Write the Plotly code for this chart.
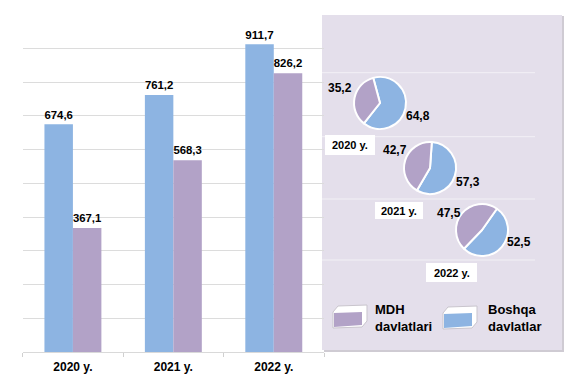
import plotly.graph_objects as go

# ---- data ----
years = ["2020 y.", "2021 y.", "2022 y."]
boshqa_vals = [674.6, 761.2, 911.7]   # blue bars
mdh_vals = [367.1, 568.3, 826.2]      # purple bars
pie_mdh = [35.2, 42.7, 47.5]
pie_boshqa = [64.8, 57.3, 52.5]
legend_names = ["MDH<br>davlatlari", "Boshqa<br>davlatlar"]

# page has an 8px body margin; figure fills the rest of the 576x385 window
OFF = 8
W, H = 576 - 2 * OFF, 385 - 2 * OFF
BLUE = "#8db4e2"
PURPLE = "#b2a2c7"
FONT = "Liberation Sans, Arial, sans-serif"


def px(x):
    return (x - OFF) / W


def py(y):
    return 1 - (y - OFF) / H


fig = go.Figure()
xs = list(range(len(years)))
fig.add_trace(go.Bar(x=xs, y=boshqa_vals, marker=dict(color=BLUE, line=dict(width=0)),
                     texttemplate="<b>%{y:.1f}</b>", textposition="outside",
                     textfont=dict(size=12.5, color="black", family=FONT),
                     cliponaxis=False, showlegend=False, hoverinfo="skip"))
fig.add_trace(go.Bar(x=xs, y=mdh_vals, marker=dict(color=PURPLE, line=dict(width=0)),
                     texttemplate="<b>%{y:.1f}</b>", textposition="outside",
                     textfont=dict(size=12.5, color="black", family=FONT),
                     cliponaxis=False, showlegend=False, hoverinfo="skip"))

# pies
pie_centers = [(380, 103), (430, 168), (482, 230)]
pie_rot = [-15, 4, 35]
R = 26
for i in range(3):
    cx, cy = pie_centers[i]
    fig.add_trace(go.Pie(values=[pie_boshqa[i], pie_mdh[i]], labels=["Boshqa", "MDH"],
                         marker=dict(colors=[BLUE, PURPLE], line=dict(color="white", width=2)),
                         sort=False, direction="clockwise", rotation=pie_rot[i],
                         textinfo="none", hoverinfo="skip", showlegend=False,
                         domain=dict(x=[px(cx - R), px(cx + R)], y=[py(cy + R), py(cy - R)])))

shapes = []
# panel shadow and panel
shapes.append(dict(type="rect", xref="paper", yref="paper", x0=px(324), x1=px(564), y0=py(352), y1=py(16),
                   fillcolor="#cfcbd3", line=dict(width=0), layer="below"))
shapes.append(dict(type="rect", xref="paper", yref="paper", x0=px(322), x1=px(562), y0=py(350), y1=py(15),
                   fillcolor="#e4dfeb", line=dict(width=0), layer="below"))
for yy in [72.7, 136.7, 199, 260]:
    shapes.append(dict(type="line", xref="paper", yref="paper", x0=px(322), x1=px(535), y0=py(yy), y1=py(yy),
                       line=dict(color="rgba(255,255,255,0.55)", width=1), layer="below"))

# year label boxes in panel
boxes = [(325, 375, 135, 155), (375, 423, 202, 219), (426, 477, 263, 282)]
for (x0, x1, y0, y1) in boxes:
    shapes.append(dict(type="rect", xref="paper", yref="paper", x0=px(x0), x1=px(x1), y0=py(y1), y1=py(y0),
                       fillcolor="white", line=dict(width=0), layer="below"))


# legend icons (3D slab look)
def slab(x0, y0, color):
    outer = [(x0, y0 + 6), (x0 + 5, y0), (x0 + 34, y0 - 1), (x0 + 34, y0 + 15), (x0 + 29, y0 + 21), (x0, y0 + 22)]
    inner = [(x0 + 1, y0 + 7), (x0 + 29, y0 + 6), (x0 + 29, y0 + 19), (x0 + 1, y0 + 21)]

    def path(pts):
        return "M " + " L ".join(f"{px(a):.5f},{py(b):.5f}" for a, b in pts) + " Z"
    return [dict(type="path", xref="paper", yref="paper", path=path(outer), fillcolor="white",
                 line=dict(color="#c9c5cd", width=1), layer="above"),
            dict(type="path", xref="paper", yref="paper", path=path(inner), fillcolor=color,
                 line=dict(width=0), layer="above")]


shapes += slab(333, 306, PURPLE)
shapes += slab(443, 307, BLUE)

ann = []
pie_lbl_mdh = [(340, 88), (395, 150), (449, 213)]
pie_lbl_b = [(418, 116), (468, 182), (519, 242)]
for i in range(3):
    for (pos, v) in [(pie_lbl_mdh[i], pie_mdh[i]), (pie_lbl_b[i], pie_boshqa[i])]:
        ann.append(dict(x=px(pos[0]), y=py(pos[1]), xref="paper", yref="paper", showarrow=False,
                        text="<b>" + f"{v:.1f}".replace(".", ",") + "</b>",
                        font=dict(size=12, color="black", family=FONT), xanchor="center", yanchor="middle"))
    x0, x1, y0, y1 = boxes[i]
    ann.append(dict(x=px((x0 + x1) / 2), y=py((y0 + y1) / 2), xref="paper", yref="paper", showarrow=False,
                    text="<b>" + years[i] + "</b>", font=dict(size=11, color="black", family=FONT),
                    xanchor="center", yanchor="middle"))

ann.append(dict(x=px(373), y=py(318), xref="paper", yref="paper", showarrow=False, align="left",
                text="<b>" + legend_names[0] + "</b>", font=dict(size=13, color="black", family=FONT),
                xanchor="left", yanchor="middle"))
ann.append(dict(x=px(486), y=py(318), xref="paper", yref="paper", showarrow=False, align="left",
                text="<b>" + legend_names[1] + "</b>", font=dict(size=13, color="black", family=FONT),
                xanchor="left", yanchor="middle"))

fig.update_layout(
    width=W, height=H, margin=dict(l=0, r=0, t=0, b=0),
    paper_bgcolor="white", plot_bgcolor="rgba(0,0,0,0)",
    barmode="group", bargap=0.433, bargroupgap=0,
    separators=", ",
    font=dict(family=FONT, color="black"),
    shapes=shapes, annotations=ann,
    xaxis=dict(domain=[px(22.7), px(324)], range=[-0.5, 2.5], tickmode="array", tickvals=xs,
               ticktext=["<b>" + y + "</b>" for y in years], ticks="", showgrid=False, zeroline=False,
               showline=True, linecolor="#d9d9d9", linewidth=1, ticklabelstandoff=4,
               tickfont=dict(size=12, color="black", family=FONT),
               minor=dict(tickmode="array", tickvals=[-0.5, 0.5, 1.5, 2.5], ticks="outside", ticklen=4,
                          tickcolor="#d0d0d0", showgrid=False)),
    yaxis=dict(domain=[py(352), py(14.5)], range=[0, 1000], tickmode="array",
               tickvals=[100, 200, 300, 400, 500, 600, 700, 800, 900], showticklabels=False,
               showgrid=True, gridcolor="#dcdcdc", gridwidth=1, zeroline=False, ticks=""),
)

fig.write_html("out.html")
